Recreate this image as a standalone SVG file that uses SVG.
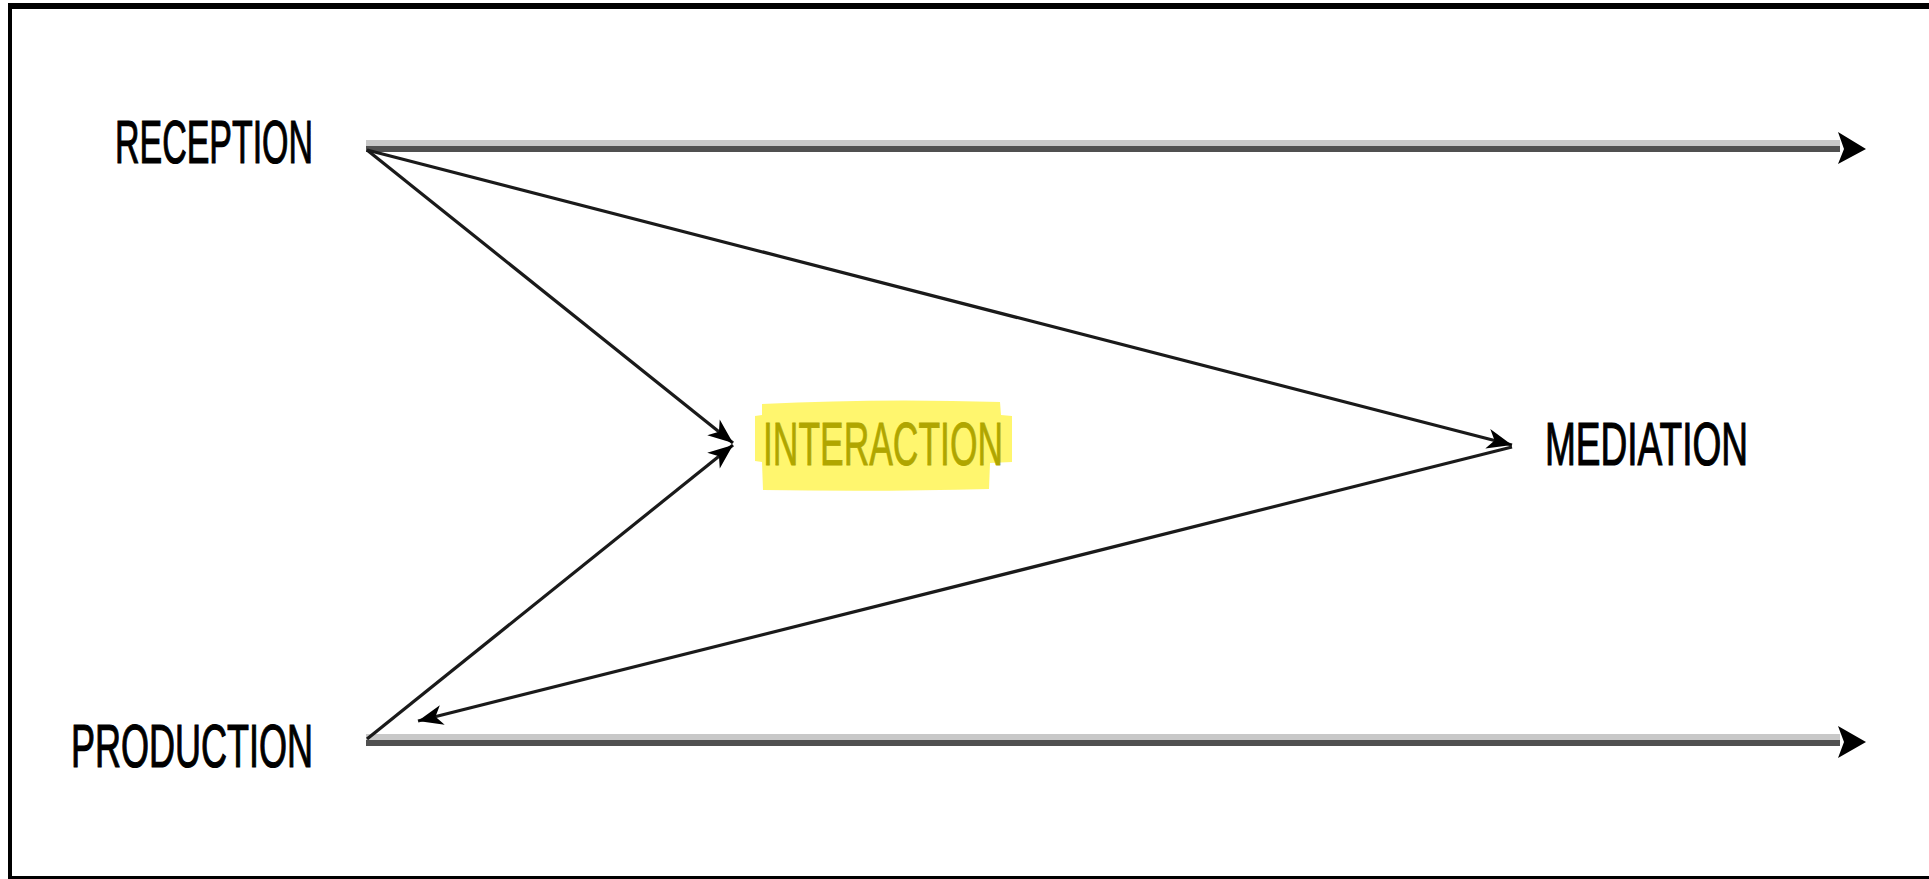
<svg xmlns="http://www.w3.org/2000/svg" width="1929" height="879" viewBox="0 0 1929 879">
  <style>
    .lbl { font-family: "Liberation Sans", Arial, sans-serif; font-size: 62px; fill: #000; stroke: #000; stroke-width: 1.2; }
    .hl { font-family: "Liberation Sans", Arial, sans-serif; font-size: 62px; fill: #b0a600; stroke: #b0a600; stroke-width: 0.8; }
    .diag { stroke: #1a1a1a; stroke-width: 3.2; fill: none; marker-end: url(#ah); }
    .bar-light { fill: #c8c8c8; }
    .bar-dark { fill: #505050; }
    .head { fill: #000; }
  </style>
  <defs>
    <marker id="ah" markerUnits="userSpaceOnUse" viewBox="-26 -12 28 24" refX="0" refY="0" markerWidth="28" markerHeight="24" orient="auto">
      <path d="M0,0 L-25,-10 L-18,0 L-25,10 Z" fill="#000"/>
    </marker>
  </defs>
  <rect width="1929" height="879" fill="#fff"/>
  <g id="frame" fill="#000">
    <rect x="8" y="3" width="1921" height="6"/>
    <rect x="8" y="3" width="4" height="876"/>
    <rect x="8" y="876" width="1921" height="3"/>
  </g>

  <g id="connectors">
    <g id="reception-arrow">
      <rect class="bar-light" x="366" y="140" width="1474" height="6"/>
      <rect class="bar-dark" x="366" y="146" width="1474" height="6"/>
      <path class="head" d="M1866,149 L1838,132 L1844,149 L1838,164 Z"/>
    </g>
    <g id="production-arrow">
      <rect class="bar-light" x="366" y="734" width="1474" height="6"/>
      <rect class="bar-dark" x="366" y="740" width="1474" height="6"/>
      <path class="head" d="M1866,742 L1838,726 L1844,742 L1838,758 Z"/>
    </g>
    <line class="diag" x1="367" y1="150" x2="733" y2="443"/>
    <line class="diag" x1="367" y1="150" x2="1512" y2="445"/>
    <line class="diag" x1="367" y1="739" x2="733" y2="445"/>
    <line class="diag" x1="1512" y1="447" x2="418" y2="721"/>
  </g>

  <g id="reception">
    <text class="lbl" x="115" y="163" textLength="198" lengthAdjust="spacingAndGlyphs">RECEPTION</text>
  </g>
  <g id="interaction">
    <path d="M762,404 Q880,398 1000,402 L1001,415 L1012,416 L1012,462 L990,463 L989,489 Q880,492 763,490 L762,462 L755,461 L755,416 L762,415 Z" fill="#fff666" opacity="0.95"/>
    <text class="hl" x="763" y="465" textLength="240" lengthAdjust="spacingAndGlyphs">INTERACTION</text>
  </g>
  <g id="mediation">
    <text class="lbl" x="1545" y="465" textLength="203" lengthAdjust="spacingAndGlyphs">MEDIATION</text>
  </g>
  <g id="production">
    <text class="lbl" x="71" y="767" textLength="242" lengthAdjust="spacingAndGlyphs">PRODUCTION</text>
  </g>
</svg>
